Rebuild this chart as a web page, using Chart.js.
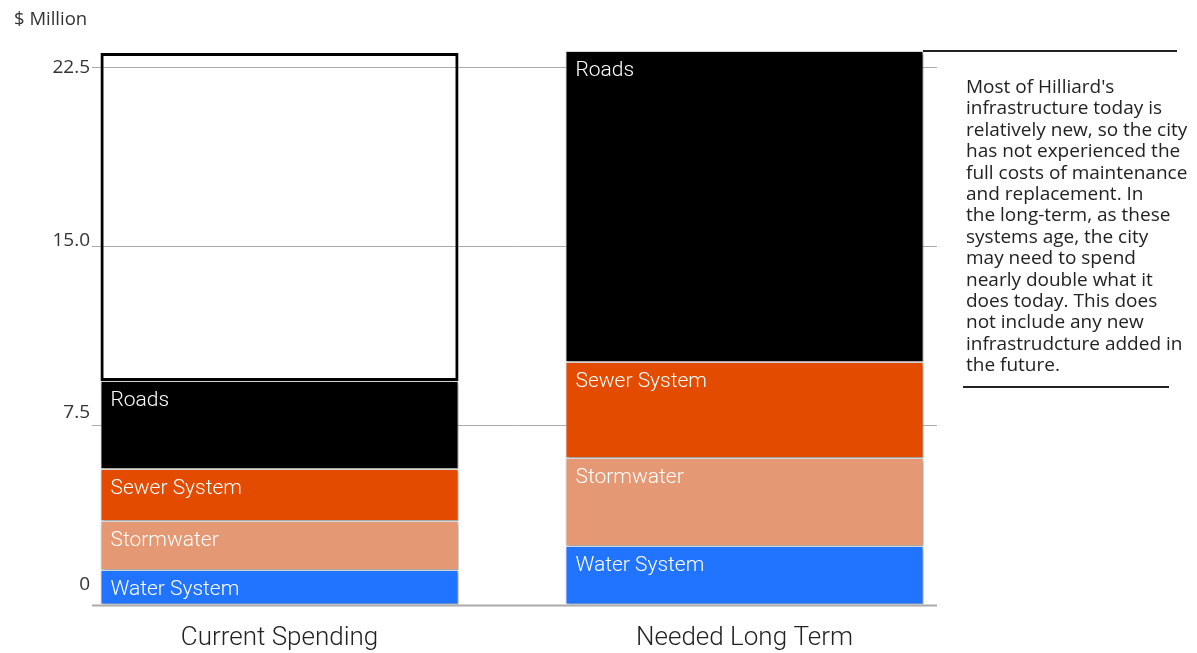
<!DOCTYPE html>
<html>
<head>
<meta charset="utf-8">
<script src="https://cdn.jsdelivr.net/npm/chart.js@4.4.0/dist/chart.umd.min.js"></script>
<style>
  html, body { margin: 0; padding: 0; background: #fff; }
  #wrap { position: relative; width: 1197px; height: 653px; }
  #unidade { position: absolute; left: 14px; top: 5px; font: 18.5px "Open Sans"; color: #333; }
  #notaTopo { position: absolute; left: 923px; top: 50px; width: 254px; height: 2px; background: #222; }
  #nota { position: absolute; left: 923px; top: 52px; width: 274px; }
  #nota p { margin: 24px 0 0 43px; font: 19px "Open Sans"; line-height: 21.4px; color: #222; white-space: nowrap; }
  #notaFim { position: absolute; left: 963px; top: 386px; width: 206px; height: 2px; background: #222; }
</style>
</head>
<body>
<div id="wrap">
  <canvas id="grafico" width="1197" height="653"></canvas>
  <div id="unidade">$ Million</div>
  <div id="notaTopo"></div>
  <div id="nota">
    <p>Most of Hilliard's<br>infrastructure today is<br>relatively new, so the city<br>has not experienced the<br>full costs of maintenance<br>and replacement. In<br>the long-term, as these<br>systems age, the city<br>may need to spend<br>nearly double what it<br>does today. This does<br>not include any new<br>infrastrudcture added in<br>the future.</p>
  </div>
  <div id="notaFim"></div>
</div>
<script>
const categories = ["Current Spending", "Needed Long Term"];
const water = [1.44, 2.45];
const stormwater = [2.05, 3.68];
const sewer = [2.18, 4.01];
const roads = [3.68, 13.01];
const gap = [13.72, null];
const tickValues = [0, 7.5, 15, 22.5];
const tickLabels = ["0", "7.5", "15.0", "22.5"];

// grid lines under the bars, tick labels on their own (slightly shifted) scale
const gridPlugin = {
    id: "gridPlugin",
    beforeDatasetsDraw(chart) {
        const ctx = chart.ctx;
        const area = chart.chartArea;
        const y = chart.scales.y;
        const yt = chart.scales.yTick;
        ctx.save();
        tickValues.forEach((v, i) => {
            const py = Math.round(y.getPixelForValue(v)) + 0.5;
            ctx.strokeStyle = "#aaa";
            ctx.lineWidth = v === 0 ? 2 : 1;
            ctx.beginPath();
            ctx.moveTo(area.left + 45, py);
            ctx.lineTo(area.right - 40, py);
            ctx.stroke();

            ctx.fillStyle = "#333";
            ctx.font = "19px 'Open Sans'";
            ctx.textAlign = "right";
            ctx.textBaseline = "middle";
            ctx.fillText(tickLabels[i], area.left + 43, yt.getPixelForValue(v));
        });
        ctx.restore();
    }
};

// soft shadow on the filled segments
const shadowPlugin = {
    id: "shadowPlugin",
    beforeDatasetDraw(chart, args) {
        if (args.index === 4) return;
        const ctx = chart.ctx;
        ctx.save();
        ctx.shadowColor = "rgba(0,0,0,0.3)";
        ctx.shadowBlur = 3;
        ctx.shadowOffsetX = 2;
        ctx.shadowOffsetY = 2;
    },
    afterDatasetDraw(chart, args) {
        if (args.index === 4) return;
        chart.ctx.restore();
    }
};

// segment names written inside each bar piece
const labelPlugin = {
    id: "labelPlugin",
    afterDatasetsDraw(chart) {
        const ctx = chart.ctx;
        ctx.save();
        ctx.fillStyle = "#fff";
        ctx.font = "300 21px Roboto";
        ctx.textAlign = "left";
        ctx.textBaseline = "middle";
        chart.data.datasets.forEach((ds, i) => {
            if (i === 4) return;
            chart.getDatasetMeta(i).data.forEach((bar, j) => {
                if (ds.data[j] == null) return;
                ctx.fillText(ds.label, bar.x - bar.width / 2 + 10, bar.y + 20);
            });
        });
        ctx.restore();
    }
};

new Chart(document.getElementById("grafico"), {
    type: "bar",
    data: {
        labels: categories,
        datasets: [
            { label: "Water System", data: water, backgroundColor: "#2174ff" },
            { label: "Stormwater", data: stormwater, backgroundColor: "#e59874" },
            { label: "Sewer System", data: sewer, backgroundColor: "#e34c00" },
            { label: "Roads", data: roads, backgroundColor: "#000000" },
            { label: "Gap", data: gap, backgroundColor: "rgba(0,0,0,0)", borderColor: "#000", borderWidth: 3 }
        ].map(d => Object.assign({
            borderColor: "#d6d6d6",
            borderWidth: 1,
            borderSkipped: false,
            barPercentage: 0.77,
            categoryPercentage: 1
        }, d))
    },
    options: {
        responsive: false,
        animation: false,
        devicePixelRatio: 1,
        layout: { padding: { left: 47, right: 220, top: 47, bottom: 0 } },
        plugins: { legend: { display: false }, tooltip: { enabled: false } },
        scales: {
            x: {
                stacked: true,
                grid: { display: false, drawTicks: false },
                border: { display: false },
                ticks: { color: "#222", font: { family: "Roboto", weight: 300, size: 26 }, padding: 18 },
                afterFit(s) { s.height = 48.5; }
            },
            y: {
                stacked: true,
                display: false,
                min: 0,
                max: 23.32
            },
            yTick: {
                display: false,
                min: -0.853,
                max: 23.407
            }
        }
    },
    plugins: [gridPlugin, shadowPlugin, labelPlugin]
});
</script>
</body>
</html>
